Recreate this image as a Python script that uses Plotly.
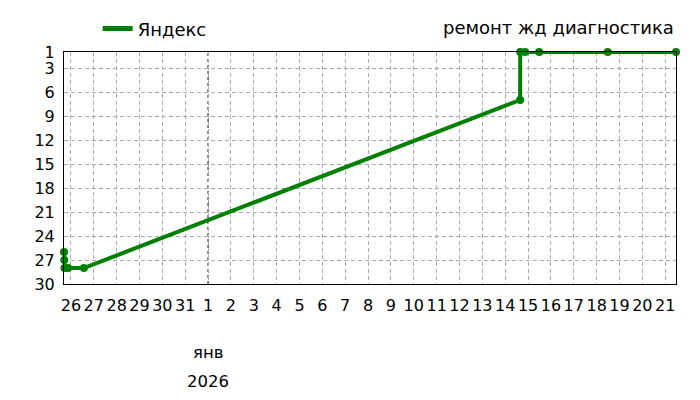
import plotly.graph_objects as go
import pandas as pd

series_name = "Яндекс"
chart_title = "ремонт жд диагностика"

times = [
    "2025-12-25 16:45", "2025-12-25 17:00", "2025-12-25 17:15", "2025-12-25 21:00",
    "2025-12-26 13:40", "2026-01-14 15:40", "2026-01-14 15:45", "2026-01-14 20:55",
    "2026-01-15 11:40", "2026-01-18 11:45", "2026-01-21 11:20",
]
positions = [26, 27, 28, 28, 28, 7, 1, 1, 1, 1, 1]

tick_dates = pd.date_range("2025-12-26", "2026-01-21", freq="D")
tick_text = [str(d.day) for d in tick_dates]
y_ticks = [1, 3, 6, 9, 12, 15, 18, 21, 24, 27, 30]
month_label = "янв"
year_label = "2026"
boundary_date = "2026-01-01"

font = "DejaVu Sans"
green = "#008000"

fig = go.Figure()
fig.add_trace(go.Scatter(
    x=pd.to_datetime(times), y=positions, mode="lines+markers", name=series_name,
    line=dict(color=green, width=4), marker=dict(color=green, size=8),
    showlegend=False, cliponaxis=False,
))
fig.add_trace(go.Scatter(
    x=[None], y=[None], mode="lines", name=series_name,
    line=dict(color=green, width=5), showlegend=True,
))

fig.update_layout(
    width=692, height=392,
    margin=dict(l=56, r=24, t=44, b=116, autoexpand=False),
    plot_bgcolor="white", paper_bgcolor="white",
    font=dict(family=font, size=16, color="black"),
    showlegend=True,
    legend=dict(orientation="h", x=0.055, y=1.02, xanchor="left", yanchor="bottom",
                font=dict(size=18), bgcolor="rgba(0,0,0,0)"),
    annotations=[
        dict(text=chart_title, x=1, y=1.0, xref="paper", yref="paper",
             xanchor="right", yanchor="bottom", yshift=12, showarrow=False,
             font=dict(size=18)),
        dict(text=month_label, x=boundary_date, y=0, xref="x", yref="paper",
             xanchor="center", yanchor="middle", yshift=-68, showarrow=False,
             font=dict(size=16.5)),
        dict(text=year_label, x=boundary_date, y=0, xref="x", yref="paper",
             xanchor="center", yanchor="middle", yshift=-97, showarrow=False,
             font=dict(size=16.5)),
    ],
)

fig.update_xaxes(
    type="date",
    range=[pd.Timestamp(times[0]), pd.Timestamp(times[-1])],
    tickvals=list(tick_dates), ticktext=tick_text, tickangle=0,
    showgrid=True, gridcolor="#aaaaaa", griddash="4px,3px", gridwidth=1,
    showline=True, linecolor="black", linewidth=1, mirror=True,
    ticks="", ticklabelstandoff=7, zeroline=False,
)
fig.update_yaxes(
    range=[30, 1], tickvals=y_ticks,
    showgrid=True, gridcolor="#aaaaaa", griddash="4px,3px", gridwidth=1,
    showline=True, linecolor="black", linewidth=1, mirror=True,
    ticks="", ticklabelstandoff=5, zeroline=False,
)
fig.add_shape(type="line", x0=boundary_date, x1=boundary_date, y0=0, y1=1,
              xref="x", yref="paper", line=dict(color="black", width=1, dash="dot"),
              layer="below")

fig.write_html("out.html")
